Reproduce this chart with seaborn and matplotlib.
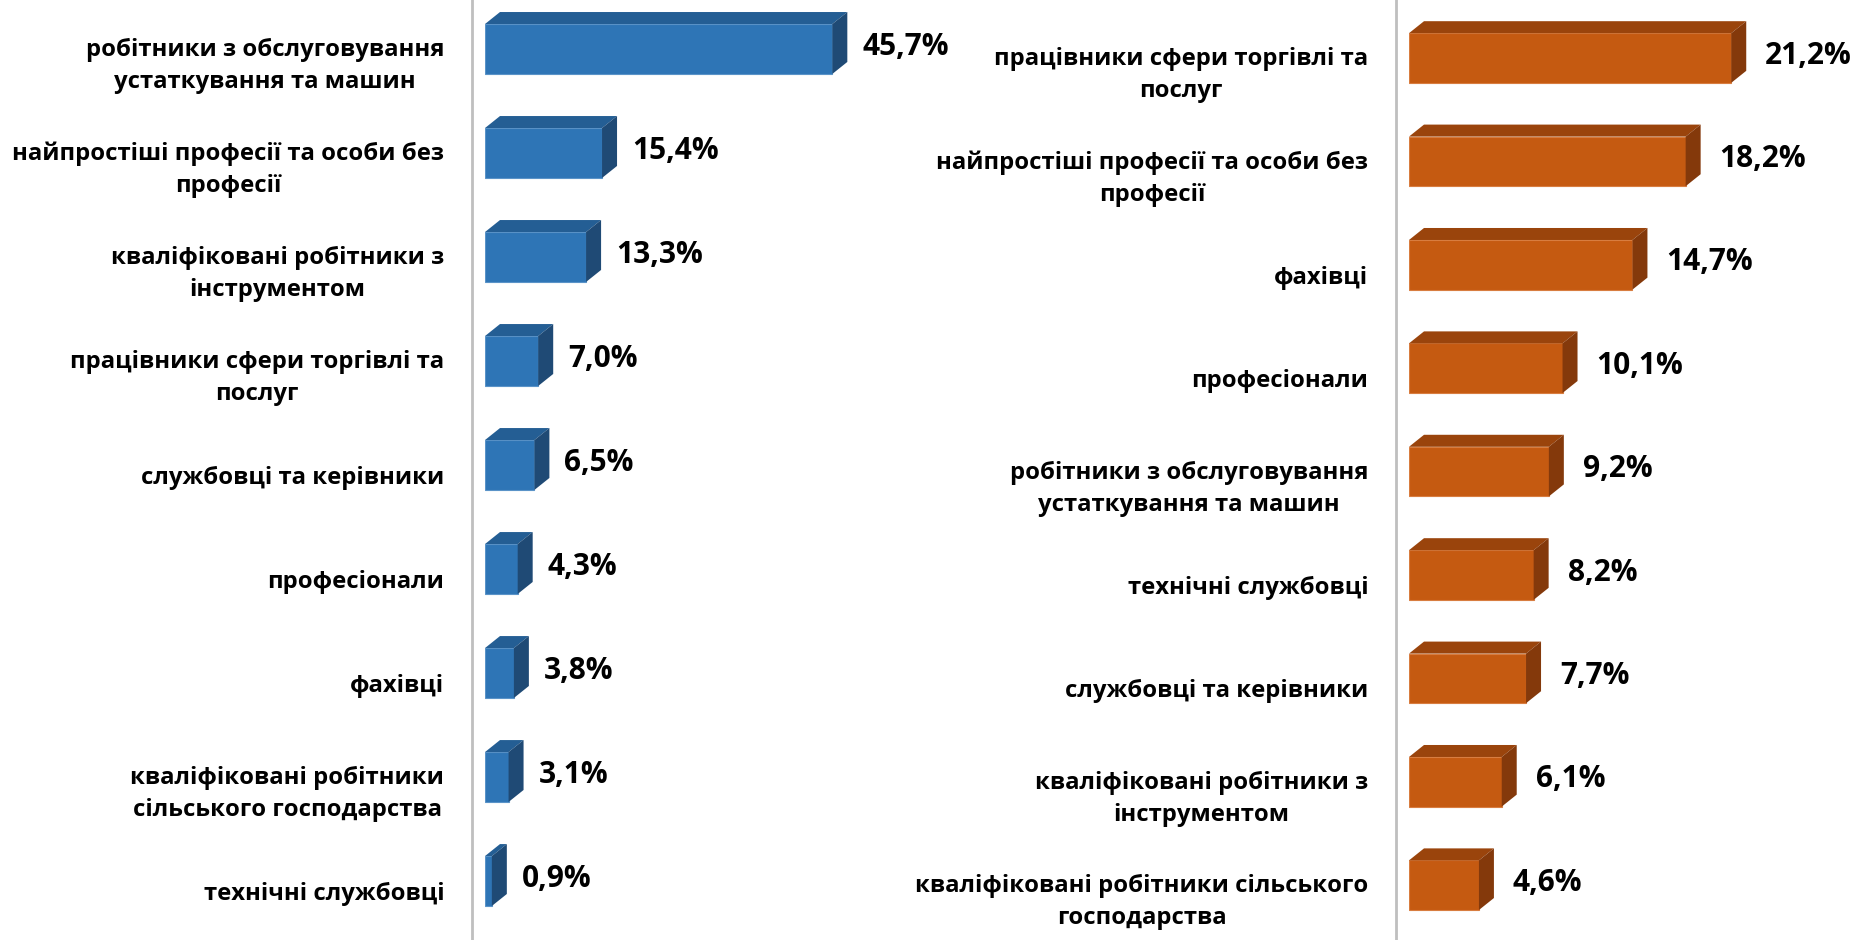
import matplotlib
matplotlib.use("Agg")
import matplotlib.pyplot as plt
import matplotlib.transforms as mtransforms
from matplotlib.patches import Polygon
import seaborn as sns
import pandas as pd

left_categories = [
    "робітники з обслуговування\nустаткування та машин",
    "найпростіші професії та особи без\nпрофесії",
    "кваліфіковані робітники з\nінструментом",
    "працівники сфери торгівлі та\nпослуг",
    "службовці та керівники",
    "професіонали",
    "фахівці",
    "кваліфіковані робітники\nсільського господарства",
    "технічні службовці",
]
left_values = [45.7, 15.4, 13.3, 7.0, 6.5, 4.3, 3.8, 3.1, 0.9]

right_categories = [
    "працівники сфери торгівлі та\nпослуг",
    "найпростіші професії та особи без\nпрофесії",
    "фахівці",
    "професіонали",
    "робітники з обслуговування\nустаткування та машин",
    "технічні службовці",
    "службовці та керівники",
    "кваліфіковані робітники з\nінструментом",
    "кваліфіковані робітники сільського\nгосподарства",
]
right_values = [21.2, 18.2, 14.7, 10.1, 9.2, 8.2, 7.7, 6.1, 4.6]

sns.set_theme(style="white")
plt.rcParams["font.family"] = ["Open Sans", "DejaVu Sans"]
plt.rcParams["font.weight"] = "bold"

W, H, DPI = 1868, 940, 100
fig = plt.figure(figsize=(W / DPI, H / DPI), dpi=DPI)

def panel(rect, cats, vals, xmax, ylim, front, edge, top, side, label_gap):
    ax = fig.add_axes(rect)
    df = pd.DataFrame({"cat": cats, "val": vals})
    sns.barplot(data=df, x="val", y="cat", orient="h", color=front,
                saturation=1, width=0.48, ax=ax, edgecolor=edge, linewidth=0.8)
    ax.set_xlim(0, xmax)
    ax.set_ylim(*ylim)
    ax.set_xlabel("")
    ax.set_ylabel("")
    ax.set_xticks([])
    for s in ["top", "right", "bottom"]:
        ax.spines[s].set_visible(False)
    ax.spines["left"].set_color("#BFBFBF")
    ax.spines["left"].set_linewidth(2)
    ax.spines["left"].set_position(("outward", 13 * 72 / DPI))
    ax.tick_params(axis="y", length=0, pad=20, labelsize=17.2)
    offset = mtransforms.ScaledTranslation(0, -10 / DPI, fig.dpi_scale_trans)
    for lbl in ax.get_yticklabels():
        lbl.set_multialignment("center")
        lbl.set_fontweight("bold")
        lbl.set_color("black")
        lbl.set_linespacing(1.45)
        lbl.set_transform(lbl.get_transform() + offset)

    # pixel -> data conversion for 3D depth
    p0 = ax.transData.transform((0, 0))
    p1 = ax.transData.transform((1, 1))
    px_x = p1[0] - p0[0]
    px_y = abs(p1[1] - p0[1])
    ddx = 15 / px_x
    ddy = 12 / px_y
    bars = list(ax.patches)
    for p, v in zip(bars, vals):
        x0, y, w, h = p.get_x(), p.get_y(), p.get_width(), p.get_height()
        # soft shadow on the left
        for wpx, col in [(5, "#ECECEC"), (3, "#D6D6D6")]:
            ax.add_patch(Polygon([(x0 - wpx / px_x, y - ddy + 2 / px_y),
                                  (x0, y - ddy),
                                  (x0, y + h + 3 / px_y),
                                  (x0 - wpx / px_x, y + h + 3 / px_y)],
                                 closed=True, facecolor=col, edgecolor="none",
                                 zorder=0.5))
        top_face = Polygon([(x0, y), (x0 + w, y), (x0 + w + ddx, y - ddy),
                            (x0 + ddx, y - ddy)], closed=True,
                           facecolor=top, edgecolor="none")
        side_face = Polygon([(x0 + w, y), (x0 + w + ddx, y - ddy),
                             (x0 + w + ddx, y + h - ddy), (x0 + w, y + h)],
                            closed=True, facecolor=side, edgecolor="none")
        ax.add_patch(top_face)
        ax.add_patch(side_face)
        ax.text(x0 + w + label_gap / px_x, y + h / 2 - ddy / 5,
                f"{v:.1f}%".replace(".", ","), ha="left", va="center",
                fontsize=21.5, fontweight="bold", color="black")
    return ax

panel([485 / W, 0, 456 / W, 1], left_categories, left_values, 60,
      (8.567, -0.471), "#2E75B6", "#5A93C8", "#245E94", "#1F4A75", 30)
panel([1409 / W, 0, 456 / W, 1], right_categories, right_values, 30,
      (8.53, -0.561), "#C55A11", "#D87D40", "#9A440C", "#84390B", 34)

fig.savefig("out.png", dpi=DPI)
